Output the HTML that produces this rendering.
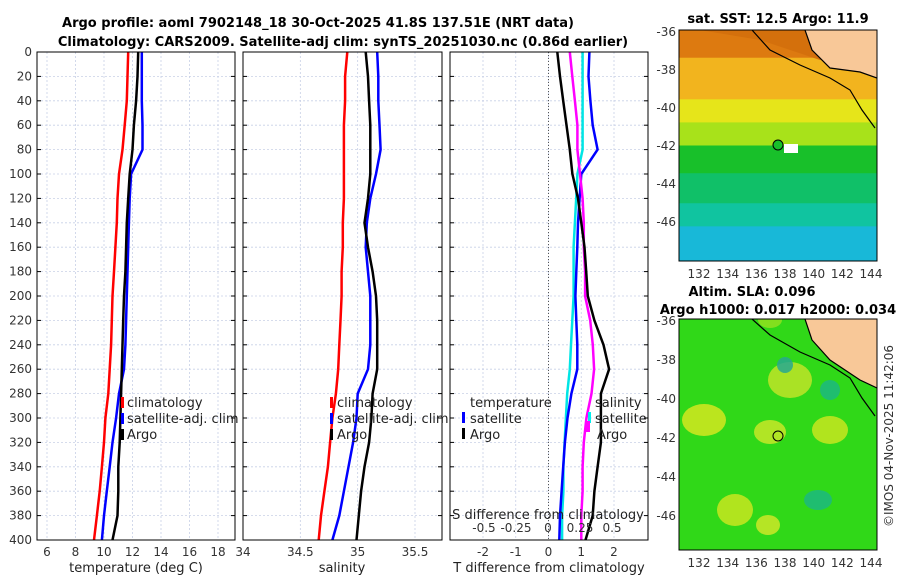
<!DOCTYPE html>
<html><head><meta charset="utf-8"><style>
body{margin:0;background:#fff;width:900px;height:580px;overflow:hidden}
svg{font-family:"DejaVu Sans","Liberation Sans",sans-serif}
</style></head><body>
<svg id="c" width="900" height="580" xmlns="http://www.w3.org/2000/svg">
<defs>
<clipPath id="cl1"><rect x="679" y="30" width="198" height="231"/></clipPath>
<clipPath id="cl2"><rect x="679" y="319" width="198" height="231"/></clipPath>
</defs>
<text x="318" y="27" font-size="13" font-weight="bold" text-anchor="middle">Argo profile: aoml 7902148_18 30-Oct-2025 41.8S 137.51E (NRT data)</text>
<text x="343" y="46" font-size="13" font-weight="bold" text-anchor="middle">Climatology: CARS2009. Satellite-adj clim: synTS_20251030.nc (0.86d earlier)</text>
</svg>
<script>
const depths=[0,20,40,60,80,100,120,140,160,180,200,220,240,260,280,300,320,340,360,380,400];
const tClim=[11.7,11.65,11.6,11.45,11.3,11.05,10.95,10.9,10.8,10.7,10.6,10.55,10.5,10.4,10.3,10.1,10.0,9.85,9.7,9.5,9.3];
const tSat=[12.65,12.65,12.65,12.7,12.7,11.9,11.8,11.75,11.7,11.65,11.6,11.55,11.5,11.4,11.05,10.85,10.6,10.4,10.2,10.0,9.85];
const tArgo=[12.4,12.35,12.25,12.1,12.0,11.8,11.7,11.6,11.55,11.5,11.4,11.35,11.3,11.25,11.2,11.15,11.1,11.0,11.0,10.95,10.6];
const sClim=[34.91,34.89,34.89,34.88,34.88,34.88,34.88,34.87,34.87,34.86,34.86,34.85,34.84,34.83,34.81,34.78,34.76,34.74,34.71,34.68,34.66];
const sSat=[35.17,35.18,35.18,35.19,35.2,35.16,35.11,35.08,35.07,35.09,35.11,35.11,35.11,35.09,35.0,34.99,34.96,34.92,34.88,34.84,34.78];
const sArgo=[35.07,35.09,35.1,35.11,35.11,35.11,35.09,35.06,35.09,35.13,35.16,35.17,35.17,35.17,35.13,35.12,35.1,35.06,35.03,35.01,34.99];
const dTSat=[1.25,1.22,1.28,1.35,1.5,1.0,0.95,0.9,0.88,0.85,0.82,0.85,0.88,0.88,0.7,0.58,0.5,0.45,0.4,0.35,0.33];
const dTArgo=[0.27,0.35,0.45,0.55,0.65,0.73,0.9,1.0,1.1,1.15,1.2,1.4,1.68,1.85,1.6,1.6,1.6,1.5,1.4,1.35,1.13];
const dSSat=[0.27,0.27,0.27,0.27,0.27,0.23,0.22,0.21,0.2,0.2,0.2,0.19,0.18,0.17,0.15,0.14,0.13,0.12,0.12,0.11,0.11];
const dSArgo=[0.17,0.19,0.21,0.23,0.23,0.25,0.27,0.28,0.28,0.29,0.29,0.33,0.35,0.36,0.34,0.3,0.28,0.27,0.27,0.26,0.26];
const depthTicks=[0,20,40,60,80,100,120,140,160,180,200,220,240,260,280,300,320,340,360,380,400];
const tTicks=[6,8,10,12,14,16,18];
const sTicks=[34,34.5,35,35.5];
const dTTicks=[-2,-1,0,1,2];
const dSTicks=[-0.5,-0.25,0,0.25,0.5];
const dSLabels=["-0.5","-0.25","0","0.25","0.5"];
const lonTicks=[132,134,136,138,140,142,144];
const latTicks=[-36,-38,-40,-42,-44,-46];

const svg=document.getElementById('c');const NS='http://www.w3.org/2000/svg';
function mk(t,a,p){const e=document.createElementNS(NS,t);for(const k in a)e.setAttribute(k,a[k]);(p||svg).appendChild(e);return e;}
const Y0=52,Y1=540;
const yD=d=>Y0+(d/400)*(Y1-Y0);
function lin(d0,d1,r0,r1){return v=>r0+(v-d0)/(d1-d0)*(r1-r0);}
const panels=[{x0:37,x1:235},{x0:243,x1:442},{x0:450,x1:648}];
const xT=lin(6,18,47,218), xS=lin(34,35.5,243,415), xDT=lin(-2,2,483,614), xDS=lin(-0.5,0.5,484,612);

function grid(p,xs,xf){
 for(const d of depthTicks){const l=mk('line',{x1:p.x0,x2:p.x1,y1:yD(d),y2:yD(d),stroke:'#c8d0e6','stroke-dasharray':'2,2','stroke-width':0.8});
 }
 for(const v of xs){const l=mk('line',{x1:xf(v),x2:xf(v),y1:Y0,y2:Y1,stroke:'#c8d0e6','stroke-dasharray':'2,2','stroke-width':0.8});
 }
}
function frame(p,name){const r=mk('rect',{x:p.x0,y:Y0,width:p.x1-p.x0,height:Y1-Y0,fill:'none',stroke:'#000'});
 
 for(const d of depthTicks){mk('line',{x1:p.x0,x2:p.x0+4,y1:yD(d),y2:yD(d),stroke:'#000'});mk('line',{x1:p.x1-4,x2:p.x1,y1:yD(d),y2:yD(d),stroke:'#000'});}
}
function line(vals,xf,col,w,name){const pts=vals.map((v,i)=>xf(v).toFixed(1)+','+yD(depths[i]).toFixed(1)).join(' ');
 const e=mk('polyline',{points:pts,fill:'none',stroke:col,'stroke-width':w||2.5,'stroke-linejoin':'round'});
 }
function xlabels(vals,labels,xf,y,name){vals.forEach((v,i)=>{const t=mk('text',{x:xf(v),y:y,'font-size':12,'text-anchor':'middle',fill:'#333'});t.textContent=labels?labels[i]:String(v);
 });}
function txt(x,y,s,name,o){const t=mk('text',Object.assign({x:x,y:y,'font-size':13,fill:'#222'},o||{}));t.textContent=s;return t;}

// panel 1
grid(panels[0],tTicks,xT);
line(tClim,xT,'#ff0000',2.5,'temperature-climatology-line');
line(tSat,xT,'#0000ff',2.5,'temperature-satellite-line');
line(tArgo,xT,'#000',2.5,'temperature-argo-line');
frame(panels[0],'temperature-panel');
depthTicks.forEach(d=>{const t=mk('text',{x:32,y:yD(d)+4,'font-size':12,'text-anchor':'end',fill:'#333'});t.textContent=d;});
xlabels(tTicks,null,xT,556,'temperature-tick-label');
txt(136,572,'temperature (deg C)','temperature-axis-title',{'text-anchor':'middle'});
[['#f00','climatology',407],['#00f','satellite-adj. clim',423],['#000','Argo',439]].forEach(([c,s,y])=>{
 mk('rect',{x:121,y:y-10,width:3,height:11,fill:c});txt(127,y,s,'temperature-legend-entry');});

// panel 2
grid(panels[1],sTicks,xS);
line(sClim,xS,'#ff0000',2.5,'salinity-climatology-line');
line(sSat,xS,'#0000ff',2.5,'salinity-satellite-line');
line(sArgo,xS,'#000',2.5,'salinity-argo-line');
frame(panels[1],'salinity-panel');
xlabels(sTicks,null,xS,556,'salinity-tick-label');
txt(342,572,'salinity','salinity-axis-title',{'text-anchor':'middle'});
[['#f00','climatology',407],['#00f','satellite-adj. clim',423],['#000','Argo',439]].forEach(([c,s,y])=>{
 mk('rect',{x:330,y:y-10,width:3,height:11,fill:c});txt(337,y,s,'salinity-legend-entry');});

// panel 3
grid(panels[2],dTTicks,xDT);
const zl=mk('line',{x1:xDT(0),x2:xDT(0),y1:Y0,y2:Y1,stroke:'#555','stroke-dasharray':'1,2'});
line(dSSat,xDS,'#00e5e5',2.5,'salinity-diff-satellite-line');
line(dTSat,xDT,'#0000ff',2.5,'temperature-diff-satellite-line');
line(dSArgo,xDS,'#ff00ff',2.5,'salinity-diff-argo-line');
line(dTArgo,xDT,'#000',2.5,'temperature-diff-argo-line');
frame(panels[2],'difference-panel');
xlabels(dTTicks,null,xDT,556,'t-diff-tick-label');
xlabels(dSTicks,dSLabels,xDS,532,'s-diff-tick-label');
txt(548,519,'S difference from climatology','s-diff-axis-title',{'text-anchor':'middle'});
txt(549,572,'T difference from climatology','t-diff-axis-title',{'text-anchor':'middle'});
txt(470,407,'temperature','diff-legend-title');txt(595,407,'salinity','diff-legend-title');
mk('rect',{x:462,y:412,width:3,height:11,fill:'#00f'});txt(470,423,'satellite','diff-legend-entry');
mk('rect',{x:462,y:428,width:3,height:11,fill:'#000'});txt(470,439,'Argo','diff-legend-entry');
mk('rect',{x:588,y:412,width:3,height:11,fill:'#0ee'});txt(595,423,'satellite','diff-legend-entry');
mk('rect',{x:585,y:421,width:5,height:11,fill:'#f0f'});txt(597,439,'Argo','diff-legend-entry');

// maps
function map(y0,y1,name,bands,clip){
 const X0=679,X1=877;
 const g=mk('g',{'clip-path':'url(#'+clip+')'});
 bands.forEach(([f,t,c])=>mk('rect',{x:X0,y:y0+(y1-y0)*f,width:X1-X0,height:(y1-y0)*(t-f)+0.5,fill:c},g));
 return {g,X0,X1};
}
const lonX=lin(132,144,699,871);
const m1=map(30,261,'sst-map',[[0,0.12,'#dd7a10'],[0.12,0.3,'#f2b41e'],[0.3,0.4,'#e6e51a'],[0.4,0.5,'#a8e21a'],[0.5,0.62,'#18c02a'],[0.62,0.75,'#10c068'],[0.75,0.85,'#10c4a0'],[0.85,1,'#18b8d8']],'cl1');
mk('path',{d:'M679,30 L877,30 L877,48 L820,60 L760,40 L700,30Z',fill:'#d4700c'},m1.g);
mk('path',{d:'M805,30 L877,30 L877,78 L860,72 L830,68 L812,50Z',fill:'#f8c898'},m1.g);
mk('path',{d:'M752,30 L770,50 L800,65 L830,78 L850,90 L862,110 L875,128',fill:'none',stroke:'#000','stroke-width':1.2},m1.g);
mk('path',{d:'M805,30 L812,50 L830,68 L860,72 L877,78',fill:'none',stroke:'#000','stroke-width':1.2},m1.g);
mk('rect',{x:784,y:144,width:14,height:9,fill:'#fff'},m1.g);
mk('circle',{cx:778,cy:145,r:5,fill:'#18c02a',stroke:'#000'},m1.g);
mk('rect',{x:679,y:30,width:198,height:231,fill:'none',stroke:'#000'});
txt(778,23,'sat. SST: 12.5 Argo: 11.9','sst-map-title',{'text-anchor':'middle','font-weight':'bold','font-size':13,fill:'#000'});
const m2=map(319,550,'sla-map',[[0,1,'#30d818']],'cl2');
[[704,420,22,16,'#d4e820'],[735,510,18,16,'#c8e620'],[790,380,22,18,'#c0e428'],[770,432,16,12,'#c8e828'],[800,560,12,10,'#c8e620'],[818,500,14,10,'#1cb880'],[830,430,18,14,'#c8e620'],[830,390,10,10,'#1cb880'],[785,365,8,8,'#28a890'],[770,320,12,8,'#90e020'],[768,525,12,10,'#cce828']].forEach(([cx,cy,rx,ry,c])=>mk('ellipse',{cx,cy,rx,ry,fill:c,opacity:0.85},m2.g));
mk('path',{d:'M805,319 L877,319 L877,388 L860,380 L830,360 L812,340Z',fill:'#f8c898'},m2.g);
mk('path',{d:'M752,319 L770,335 L800,352 L830,365 L850,378 L862,398 L875,416',fill:'none',stroke:'#000','stroke-width':1.2},m2.g);
mk('path',{d:'M805,319 L812,340 L830,360 L860,380 L877,388',fill:'none',stroke:'#000','stroke-width':1.2},m2.g);
mk('circle',{cx:778,cy:436,r:5,fill:'none',stroke:'#000'},m2.g);
mk('rect',{x:679,y:319,width:198,height:231,fill:'none',stroke:'#000'});
txt(752,296,'Altim. SLA: 0.096','sla-map-title',{'text-anchor':'middle','font-weight':'bold','font-size':13,fill:'#000'});
txt(778,314,'Argo h1000: 0.017 h2000: 0.034','sla-map-subtitle',{'text-anchor':'middle','font-weight':'bold','font-size':13,fill:'#000'});
[[30,32,19],[319,321,19.5]].forEach(([top,lat36,ppd])=>{
 latTicks.forEach(l=>{const y=lat36+(-36-l)*ppd;const t=mk('text',{x:676,y:y+4,'font-size':12,'text-anchor':'end',fill:'#333'});t.textContent=l;});
 lonTicks.forEach(l=>{const t=mk('text',{x:lonX(l),y:top+231+17,'font-size':12,'text-anchor':'middle',fill:'#333'});t.textContent=l;});
});
const cp=mk('text',{x:893,y:436,'font-size':12,'text-anchor':'middle',fill:'#333',transform:'rotate(-90 893 436)'});cp.textContent='©IMOS 04-Nov-2025 11:42:06';

</script>
</body></html>
